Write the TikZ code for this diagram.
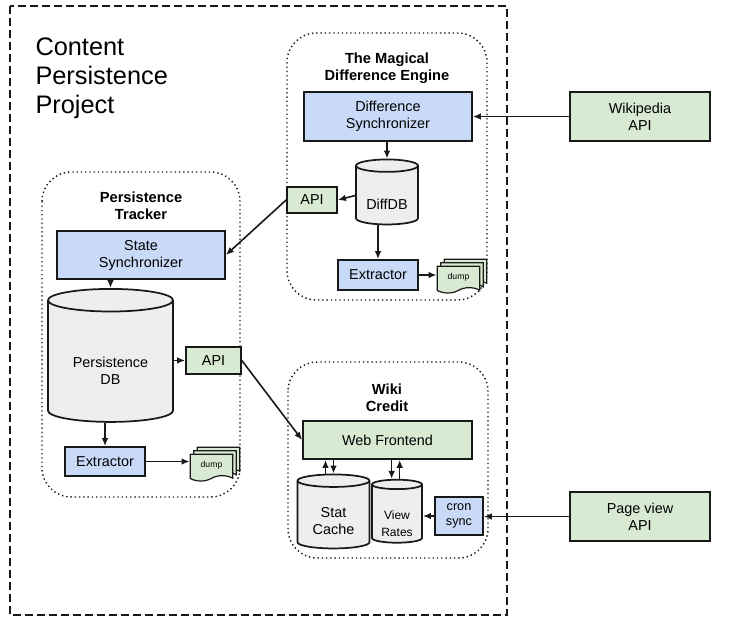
\documentclass[tikz,border=0pt]{standalone}
\usepackage{fontspec}
\setmainfont{Liberation Sans}
\usetikzlibrary{shapes.geometric,shapes.symbols,arrows.meta}

\definecolor{boxblue}{RGB}{201,218,248}
\definecolor{boxgreen}{RGB}{217,234,211}
\definecolor{dbgray}{RGB}{238,238,238}
\definecolor{inkdark}{RGB}{25,25,25}

% text of a cylinder sits low, under the top cap
\newcommand\dbtext[2][10pt]{\raisebox{-#1}[0pt][0pt]{\begin{tabular}{@{}c@{}}#2\end{tabular}}}

\tikzset{every picture/.style={line width=0.75pt}}
\tikzset{
  bluebox/.style={draw=inkdark, line width=1.3pt, fill=boxblue, inner sep=0pt, align=center, font=\fontsize{10.8}{12.75}\selectfont},
  greenbox/.style={bluebox, fill=boxgreen},
  dbcyl/.style={cylinder, shape border rotate=90, aspect=0.3, draw=inkdark, line width=1.3pt, fill=dbgray, inner sep=0pt, font=\fontsize{10.8}{12.75}\selectfont},
  dumpdoc/.style={tape, tape bend top=none, tape bend bottom=in and out, tape bend height=4pt, draw=inkdark, line width=0.9pt, fill=boxgreen, minimum width=32pt, minimum height=20pt, inner sep=0pt, font=\fontsize{6.5}{7}\selectfont},
  flow/.style={draw=inkdark, line width=1.2pt, -{Latex[length=6pt,width=5pt]}},
  groupbox/.style={draw=inkdark, line width=1.1pt, dash pattern=on 1pt off 2.2pt, rounded corners=22pt},
  grouptitle/.style={inner sep=0pt, align=center, font=\bfseries\fontsize{11}{12.75}\selectfont},
}

\begin{document}
\begin{tikzpicture}[x=0.75pt,y=0.75pt,yscale=-1,xscale=1]
\useasboundingbox (0,0) rectangle (729,617);

%Shape: Rectangle [id:project]
\draw [draw=inkdark, line width=1.1pt, dash pattern=on 6pt off 3pt] (10,6) rectangle (507,615);
% Text Node
\node [anchor=north west, inner sep=0pt, align=left, font=\fontsize{19}{21.75}\selectfont] (projtitle) at (35,37) {Content\\Persistence\\Project};

%Rounded Rect [id:engine]
\draw [groupbox] (287,33) rectangle (487,300);
% Text Node
\node [grouptitle] (engtitle) at (387,68) {The Magical\\Difference Engine};
% Shapes
\node [bluebox, minimum width=126pt, minimum height=36.75pt] (dsync) at (388,116.5) {Difference\\Synchronizer};
\node [dbcyl, minimum width=46.5pt, minimum height=48.75pt] (diffdb) at (387,195.5) {\dbtext[11pt]{DiffDB}};
\node [greenbox, minimum width=37.5pt, minimum height=19.5pt] (eapi) at (312,200) {API};
\node [bluebox, minimum width=60pt, minimum height=22.5pt] (eext) at (378,275) {Extractor};
\node [dumpdoc] (edumpb) at (465.5,270) {};
\node [dumpdoc] (edumpm) at (462,273.5) {};
\node [dumpdoc] (edump) at (458.5,277) {dump};

%Shape: Rectangle [id:wikipedia]
\node [greenbox, minimum width=105pt, minimum height=36.75pt] (wikiapi) at (640,116.5) {Wikipedia\\API};

%Rounded Rect [id:tracker]
\draw [groupbox] (42,172) rectangle (240,497);
% Text Node
\node [grouptitle] (trktitle) at (141,206) {Persistence\\Tracker};
% Shapes
\node [bluebox, minimum width=126pt, minimum height=36pt] (ssync) at (141,255) {State\\Synchronizer};
\node [dbcyl, minimum width=93.75pt, minimum height=99.75pt] (pdb) at (110.5,361.5) {\dbtext[11pt]{Persistence\\DB}};
\node [greenbox, minimum width=41.25pt, minimum height=20.25pt] (papi) at (213.5,360.5) {API};
\node [bluebox, minimum width=60pt, minimum height=21.75pt] (pext) at (105,461.5) {Extractor};
\node [dumpdoc] (pdumpb) at (218.5,458) {};
\node [dumpdoc] (pdumpm) at (215,461.5) {};
\node [dumpdoc] (pdump) at (211.5,465) {dump};

%Rounded Rect [id:wikicredit]
\draw [groupbox] (288,362) rectangle (488,558);
% Text Node
\node [grouptitle] (wctitle) at (387,398) {Wiki\\Credit};
% Shapes
\node [greenbox, minimum width=126.75pt, minimum height=28.5pt] (wfront) at (387.5,440) {Web Frontend};
\node [dbcyl, minimum width=54pt, minimum height=55.5pt] (stat) at (333.5,515) {\dbtext[8.7pt]{Stat\\Cache}};
\node [dbcyl, minimum width=37.5pt, minimum height=47.25pt, font=\fontsize{9}{13}\selectfont] (views) at (397,514) {\dbtext[10pt]{View\\Rates}};
\node [bluebox, minimum width=36pt, minimum height=28.5pt, font=\fontsize{9.5}{11.5}\selectfont] (cron) at (459,516) {cron\\sync};

%Shape: Rectangle [id:pageview]
\node [greenbox, minimum width=105pt, minimum height=36.75pt] (pvapi) at (640,516.5) {Page view\\API};

%Straight Lines
\draw [flow] (wikiapi.west) -- (dsync.east);
\draw [flow] (dsync.south -| diffdb.north) -- (diffdb.north);
\draw [flow] (diffdb.west) -- (eapi.east);
\draw [flow] (eext.north |- diffdb.south) -- (eext.north);
\draw [flow] (eext.east) -- (eext.east -| edump.west);
\draw [flow] (eapi.west) -- (ssync.east);
\draw [flow] (ssync.south -| pdb.north) -- (pdb.north);
\draw [flow] (pdb.east |- papi.west) -- (papi.west);
\draw [flow] (pext.north |- pdb.south) -- (pext.north);
\draw [flow] (pext.east) -- (pext.east -| pdump.west);
\draw [flow] (papi.east) -- (wfront.west);
\draw [flow] ([xshift=-6pt]stat.north) -- ([xshift=-6pt]stat.north |- wfront.south);
\draw [flow] (stat.north |- wfront.south) -- (stat.north);
\draw [flow] ([xshift=-4pt]views.north |- wfront.south) -- ([xshift=-4pt]views.north);
\draw [flow] ([xshift=2pt]views.north) -- ([xshift=2pt]views.north |- wfront.south);
\draw [flow] (cron.west) -- (cron.west -| views.east);
\draw [flow] (pvapi.west) -- (pvapi.west -| cron.east);
\end{tikzpicture}
\end{document}
